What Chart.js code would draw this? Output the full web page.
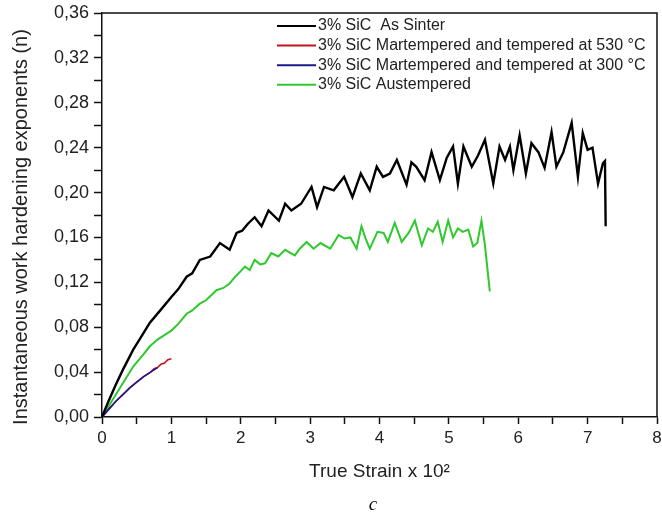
<!DOCTYPE html>
<html>
<head>
<meta charset="utf-8">
<script src="https://cdn.jsdelivr.net/npm/chart.js@4"></script>
<style>
  html, body { margin: 0; padding: 0; background: #fff; }
  #wrap { width: 662px; height: 515px; }
</style>
</head>
<body>
<div id="wrap"><canvas id="myChart"></canvas></div>
<script>
const ctx = document.querySelector("#myChart");

const etiquetas = [
    '3% SiC  As Sinter',
    '3% SiC Martempered and tempered at 530 °C',
    '3% SiC Martempered and tempered at 300 °C',
    '3% SiC Austempered'
];
const tituloX = 'True Strain x 10²';
const tituloY = 'Instantaneous work hardening exponents (n)';

// As Sinter
const strainSinter = [0, 0.1, 0.2, 0.3, 0.45, 0.58, 0.69, 0.84, 1.0, 1.1,
    1.22, 1.3, 1.41, 1.56, 1.7, 1.84, 1.94, 2.02, 2.1, 2.2,
    2.3, 2.4, 2.55, 2.64, 2.73, 2.87, 3.02, 3.1, 3.2, 3.34,
    3.49, 3.61, 3.73, 3.86, 3.96, 4.05, 4.15, 4.25, 4.39, 4.46,
    4.53, 4.65, 4.75, 4.87, 4.97, 5.06, 5.13, 5.21, 5.33, 5.42,
    5.52, 5.64, 5.73, 5.81, 5.88, 5.93, 6.02, 6.11, 6.19, 6.29,
    6.38, 6.48, 6.55, 6.65, 6.77, 6.86, 6.93, 7.0, 7.07, 7.15,
    7.22, 7.25, 7.26];
const nSinter = [0, 0.015, 0.029, 0.042, 0.060, 0.073, 0.084, 0.095, 0.107, 0.114,
    0.125, 0.128, 0.140, 0.143, 0.155, 0.149, 0.164, 0.166, 0.172, 0.178,
    0.170, 0.184, 0.175, 0.190, 0.184, 0.190, 0.205, 0.187, 0.205, 0.202,
    0.214, 0.196, 0.217, 0.202, 0.223, 0.214, 0.217, 0.229, 0.207, 0.227,
    0.223, 0.211, 0.236, 0.211, 0.231, 0.241, 0.208, 0.241, 0.223, 0.233,
    0.247, 0.208, 0.241, 0.229, 0.241, 0.220, 0.251, 0.217, 0.244, 0.236,
    0.222, 0.254, 0.223, 0.236, 0.262, 0.214, 0.253, 0.238, 0.240, 0.208,
    0.226, 0.228, 0.170];

// Martempered 530
const strain530 = [0, 0.1, 0.2, 0.3, 0.4, 0.5, 0.6, 0.7, 0.75, 0.8, 0.85, 0.9, 0.95, 1.0];
const n530 = [0, 0.007, 0.014, 0.020, 0.026, 0.031, 0.036, 0.040, 0.043, 0.044, 0.047, 0.048, 0.051, 0.052];

// Martempered 300
const strain300 = [0, 0.1, 0.2, 0.3, 0.4, 0.5, 0.6, 0.7, 0.8];
const n300 = [0, 0.007, 0.014, 0.020, 0.026, 0.031, 0.036, 0.040, 0.044];

// Austempered
const strainAus = [0, 0.1, 0.2, 0.3, 0.45, 0.6, 0.69, 0.8, 0.9, 1.0,
    1.1, 1.22, 1.3, 1.41, 1.5, 1.65, 1.75, 1.84, 1.92, 2.0,
    2.06, 2.13, 2.2, 2.28, 2.35, 2.44, 2.54, 2.64, 2.72, 2.78,
    2.85, 2.95, 3.05, 3.15, 3.29, 3.41, 3.5, 3.58, 3.67, 3.74,
    3.8, 3.86, 3.97, 4.06, 4.12, 4.22, 4.32, 4.42, 4.51, 4.61,
    4.70, 4.77, 4.84, 4.91, 4.99, 5.06, 5.13, 5.2, 5.28, 5.35,
    5.41, 5.47, 5.52, 5.59];
const nAus = [0, 0.010, 0.020, 0.030, 0.045, 0.056, 0.063, 0.069, 0.073, 0.077,
    0.083, 0.092, 0.095, 0.101, 0.104, 0.113, 0.115, 0.119, 0.125, 0.130,
    0.134, 0.131, 0.140, 0.136, 0.137, 0.146, 0.143, 0.149, 0.146, 0.144,
    0.150, 0.156, 0.150, 0.155, 0.150, 0.162, 0.159, 0.160, 0.150, 0.170,
    0.159, 0.150, 0.165, 0.164, 0.156, 0.173, 0.156, 0.164, 0.175, 0.153,
    0.168, 0.165, 0.174, 0.156, 0.175, 0.160, 0.168, 0.165, 0.167, 0.152,
    0.155, 0.175, 0.153, 0.112];

const puntos = (xs, ys) => xs.map((x, i) => ({ x: x, y: ys[i] }));

const fuente = "'Liberation Sans', Arial, sans-serif";

// marco, leyenda, titulo Y y la letra c
const extras = {
    id: 'extras',
    afterDraw(chart) {
        const c = chart.ctx;
        const a = chart.chartArea;
        c.save();
        c.strokeStyle = '#111';
        c.lineWidth = 1.5;
        c.beginPath();
        c.moveTo(a.left, a.top);
        c.lineTo(a.right, a.top);
        c.lineTo(a.right, a.bottom);
        c.stroke();

        c.font = "16px " + fuente;
        c.textBaseline = 'middle';
        c.fillStyle = '#222';
        [0, 1, 2, 3].forEach((k, i) => {
            const ds = chart.data.datasets[k];
            const y = 26 + i * 19.6;
            c.strokeStyle = ds.borderColor;
            c.lineWidth = 2;
            c.beginPath();
            c.moveTo(277, y);
            c.lineTo(316, y);
            c.stroke();
            c.fillText(ds.label, 318, y);
        });

        c.save();
        c.translate(21, 227);
        c.rotate(-Math.PI / 2);
        c.textAlign = 'center';
        c.font = "20px " + fuente;
        c.fillText(tituloY, 0, 0);
        c.restore();

        c.font = "italic 19px 'Liberation Serif', 'Times New Roman', serif";
        c.fillStyle = '#111';
        c.textAlign = 'center';
        c.fillText('c', 373, 505);
        c.restore();
    }
};

const myChart = new Chart(ctx, {
    type: 'scatter',
    data: {
        datasets: [{
            label: etiquetas[0],
            data: puntos(strainSinter, nSinter),
            borderColor: '#000000',
            borderWidth: 2.4,
            order: 1
        }, {
            label: etiquetas[1],
            data: puntos(strain530, n530),
            borderColor: '#c0141c',
            borderWidth: 1.6,
            order: 3
        }, {
            label: etiquetas[2],
            data: puntos(strain300, n300),
            borderColor: '#1c1a8a',
            borderWidth: 1.6,
            order: 2
        }, {
            label: etiquetas[3],
            data: puntos(strainAus, nAus),
            borderColor: '#2fc82f',
            borderWidth: 2,
            order: 4
        }]
    },
    options: {
        responsive: true,
        maintainAspectRatio: false,
        animation: false,
        showLine: true,
        elements: {
            point: { radius: 0, hoverRadius: 0 },
            line: { tension: 0 }
        },
        layout: { padding: { left: 10, right: 0, top: 13, bottom: 32 } },
        plugins: {
            legend: { display: false },
            tooltip: { enabled: false }
        },
        scales: {
            x: {
                type: 'linear',
                min: 0,
                max: 8,
                afterFit: (s) => { s.height = 66; s.paddingRight = 5; },
                border: { color: '#111', width: 1.5 },
                grid: { drawOnChartArea: false, tickLength: 7, tickColor: '#111', tickWidth: 1.5 },
                ticks: {
                    stepSize: 0.5,
                    autoSkip: false,
                    maxRotation: 0,
                    padding: 4,
                    color: '#222',
                    font: { family: fuente, size: 17 },
                    callback: (v) => Number.isInteger(v) ? String(v) : ''
                },
                title: {
                    display: true,
                    text: tituloX,
                    color: '#222',
                    padding: 0,
                    font: { family: fuente, size: 19 }
                }
            },
            y: {
                type: 'linear',
                min: 0,
                max: 0.36,
                afterFit: (s) => { s.width = 92; s.paddingTop = 0; s.paddingBottom = 0; },
                border: { color: '#111', width: 1.5 },
                grid: { drawOnChartArea: false, tickLength: 8, tickColor: '#111', tickWidth: 1.5 },
                ticks: {
                    stepSize: 0.02,
                    autoSkip: false,
                    padding: 5,
                    color: '#222',
                    font: { family: fuente, size: 18 },
                    callback: (v) => {
                        const k = Math.round(v * 100);
                        return k % 4 === 0 ? (k / 100).toFixed(2).replace('.', ',') : '';
                    }
                },
                title: { display: false }
            }
        }
    },
    plugins: [extras]
});
</script>
</body>
</html>
